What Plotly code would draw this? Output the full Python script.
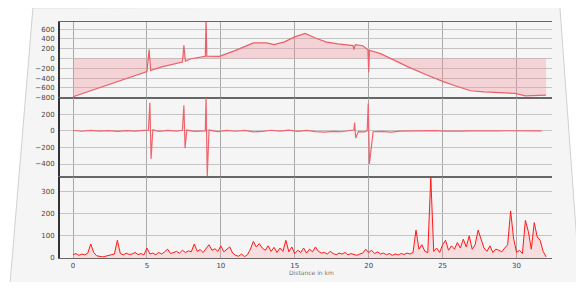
import plotly.graph_objects as go
from plotly.subplots import make_subplots

# ---- Panel 1: elevation profile ----
elev_x = [0.0, 1.0, 2.0, 3.0, 4.0, 5.0, 5.15, 5.25, 6.0, 7.0, 7.4, 7.5, 7.6, 8.0,
          8.8, 8.95, 9.0, 9.05, 9.9, 11.0, 12.2, 13.1, 13.6, 14.3, 15.0, 15.7, 16.4,
          17.1, 17.9, 18.7, 18.95, 19.0, 19.1, 19.6, 19.95, 20.0, 20.05, 20.8, 21.7,
          22.7, 23.9, 25.0, 26.0, 26.9, 27.8, 28.7, 29.3, 29.9, 30.6, 31.3, 32.0]
elev_y = [-780, -676, -572, -468, -364, -265, 182, -245, -170, -100, -70, 270, -55, -5,
          40, 45, 800, 50, 44, 167, 318, 318, 285, 340, 442, 511, 420,
          340, 300, 270, 265, 180, 285, 260, 180, -280, 170, 100, -30,
          -176, -330, -465, -570, -657, -680, -691, -700, -712, -760, -755, -745]

# ---- Panel 2: gradient ----
deriv_x = [0.0, 0.6, 1.2, 1.8, 2.4, 3.0, 3.6, 4.2, 4.8, 5.1, 5.2, 5.28, 5.4, 5.8,
           6.4, 7.0, 7.4, 7.5, 7.58, 7.7, 8.2, 8.7, 8.95, 9.0, 9.08, 9.2, 9.8, 10.4,
           11.0, 11.6, 12.2, 12.8, 13.4, 14.0, 14.6, 15.2, 15.8, 16.4, 17.0, 17.6,
           18.2, 18.7, 19.0, 19.05, 19.12, 19.3, 19.7, 19.9, 19.97, 20.05, 20.3,
           20.9, 21.5, 22.1, 22.7, 23.3, 23.9, 24.5, 25.1, 25.7, 26.3, 26.9, 27.5,
           28.1, 28.7, 29.3, 29.9, 30.5, 31.1, 31.7]
deriv_y = [5, -4, 6, -3, 4, -5, 3, -2, 6, 10, 340, -340, 15, -5,
           5, -3, 8, 310, -210, 10, -6, 4, 0, 420, -550, 10, -8, 5,
           -4, 6, -12, -6, 8, -3, 10, -5, 6, -8, -15, -5,
           -10, 5, 10, 100, -85, -8, -12, 0, 330, -400, -10,
           -6, -14, -3, 0, 4, -2, 3, -3, 2, -2, 0, 3,
           -2, 0, 2, -1, 2, 0, 1]

# ---- Panel 3: speed ----
speed_step = 0.2
speed_y = [15, 20, 12, 18, 14, 22, 63, 25, 10, 6,
           5, 8, 12, 15, 18, 80, 20, 14, 22, 16,
           18, 25, 15, 20, 14, 45, 18, 22, 15, 25,
           18, 28, 40, 20, 24, 30, 22, 35, 25, 32,
           28, 63, 30, 38, 25, 45, 60, 35, 42, 30,
           55, 28, 40, 50, 22, 12, 8, 18, 6, 15,
           40, 75, 50, 65, 45, 35, 55, 30, 48, 25,
           45, 30, 80, 28, 50, 20, 35, 25, 45, 22,
           40, 28, 50, 30, 22, 25, 18, 30, 20, 15,
           22, 18, 25, 14, 20, 16, 12, 18, 22, 40,
           25, 35, 20, 28, 18, 22, 15, 20, 12, 18,
           14, 20, 16, 22, 18, 25, 126, 40, 60, 30,
           25, 365, 30, 45, 25, 60, 80, 35, 55, 40,
           70, 45, 85, 50, 100, 40, 60, 126, 80, 45,
           30, 55, 25, 40, 35, 28, 45, 60, 213, 90,
           25, 35, 20, 170, 120, 40, 160, 95, 80, 30,
           5]
speed_x = [round(i * speed_step, 2) for i in range(len(speed_y))]

x_ticks = [0, 5, 10, 15, 20, 25, 30]
p1_ticks = [-800, -600, -400, -200, 0, 200, 400, 600]
p2_ticks = [-400, -200, 0, 200]
p3_ticks = [0, 100, 200, 300]
x_title = "Distance in km"

fig = make_subplots(rows=3, cols=1, shared_xaxes=True, vertical_spacing=0,
                    row_heights=[0.321, 0.337, 0.342])

fig.add_trace(go.Scatter(x=elev_x, y=elev_y, mode="lines", fill="tozeroy",
                         line=dict(color="rgb(236,95,105)", width=1.2),
                         fillcolor="rgba(242,140,150,0.32)", showlegend=False),
              row=1, col=1)
fig.add_trace(go.Scatter(x=deriv_x, y=deriv_y, mode="lines",
                         line=dict(color="rgb(240,100,110)", width=1.2),
                         showlegend=False), row=2, col=1)
fig.add_trace(go.Scatter(x=speed_x, y=speed_y, mode="lines", fill="tozeroy",
                         line=dict(color="rgb(255,25,25)", width=1),
                         fillcolor="rgba(255,150,150,0.25)", showlegend=False),
              row=3, col=1)

axis_font = dict(family="DejaVu Sans", size=7, color="#444")
for r in (1, 2, 3):
    fig.update_xaxes(range=[-0.88, 32.4], tickvals=x_ticks, showgrid=True,
                     gridcolor="#a8a8a8", gridwidth=1, showline=True, mirror=True,
                     linecolor="#666", linewidth=1.2, zeroline=False, automargin=False,
                     ticks="", tickfont=axis_font, row=r, col=1)
fig.update_xaxes(showticklabels=False, row=1, col=1)
fig.update_xaxes(showticklabels=False, row=2, col=1)
fig.update_xaxes(showticklabels=True, row=3, col=1)

fig.update_yaxes(range=[-800, 745], tickvals=p1_ticks, row=1, col=1)
fig.update_yaxes(range=[-560, 400], tickvals=p2_ticks, row=2, col=1)
fig.update_yaxes(range=[0, 365], tickvals=p3_ticks, row=3, col=1)
for r in (1, 2, 3):
    fig.update_yaxes(showgrid=True, gridcolor="#c4c4c4", gridwidth=1, zeroline=False,
                     showline=True, linecolor="#333", linewidth=2, mirror=False,
                     automargin=False, ticks="", tickfont=axis_font,
                     ticklabelstandoff=2, row=r, col=1)

fig.add_annotation(text=x_title, xref="paper", yref="paper", x=0.512, y=-0.06,
                   xanchor="center", yanchor="middle", showarrow=False,
                   font=dict(family="DejaVu Sans", size=6, color="#777"))

# sheet of paper behind the chart
fig.add_shape(type="path",
              path="M -0.055 1.06 L 1.016 1.064 L 1.057 -0.115 L -0.102 -0.12 Z",
              xref="paper", yref="paper", layer="below",
              fillcolor="#f5f5f5", line=dict(color="#d0d0d0", width=1))

fig.update_layout(width=568, height=274,
                  margin=dict(l=52, r=24, t=14, b=24),
                  paper_bgcolor="white", plot_bgcolor="#fdfdfd",
                  showlegend=False)

fig.write_html("out.html")
